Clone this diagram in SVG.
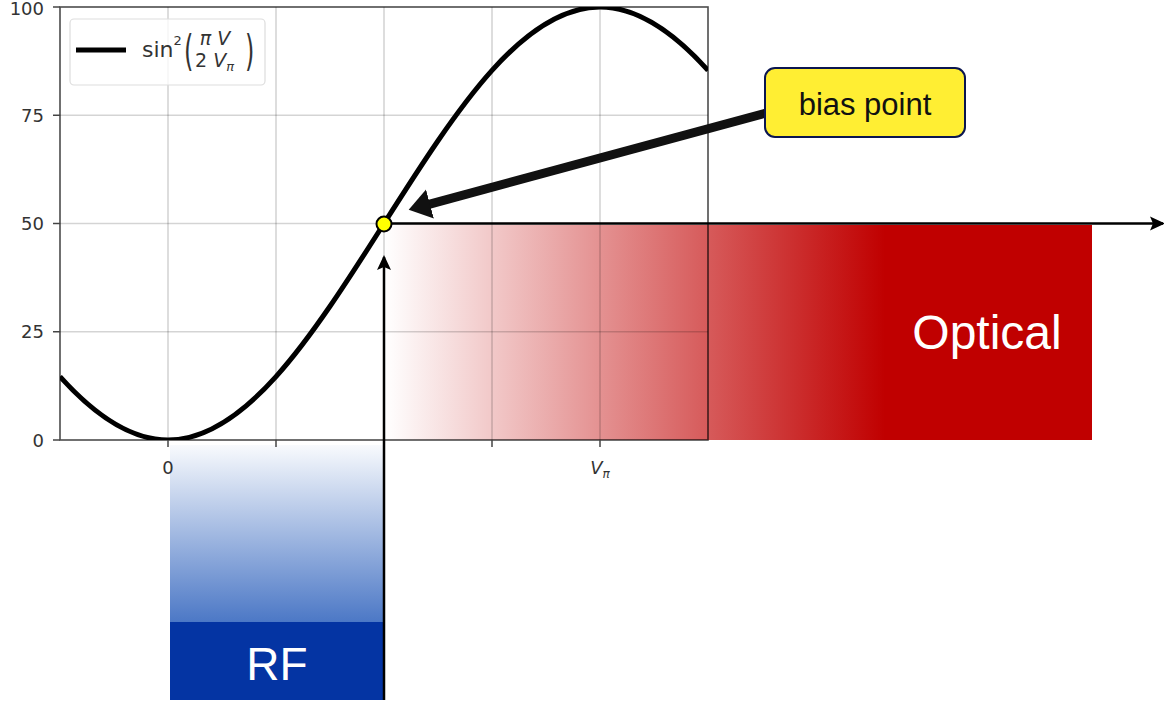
<svg xmlns="http://www.w3.org/2000/svg" width="1164" height="702" viewBox="0 0 1164 702">
<style>
.tick{font-family:"DejaVu Sans",sans-serif;font-size:18px;fill:#333}
.grid{stroke:#000;stroke-opacity:0.17;stroke-width:1.6;fill:none}
.spine{stroke:#000;stroke-opacity:0.7;stroke-width:1.6;fill:none}
.tk{stroke:#444;stroke-width:1.5}
.thin{stroke:#000;stroke-width:2.5;fill:none}
.lbl{font-family:"Liberation Sans",Arial,sans-serif;fill:#fff}
.math{font-family:"DejaVu Sans",sans-serif;fill:#333}
</style>
<defs>
<linearGradient id="redGrad" gradientUnits="userSpaceOnUse" x1="385" y1="0" x2="885" y2="0">
<stop offset="0" stop-color="#ffffff"/>
<stop offset="1" stop-color="#c00000"/>
</linearGradient>
<linearGradient id="blueGrad" gradientUnits="userSpaceOnUse" x1="0" y1="445" x2="0" y2="622">
<stop offset="0" stop-color="#f8fafd"/>
<stop offset="1" stop-color="#4c78c6"/>
</linearGradient>
<clipPath id="plotClip"><rect x="60" y="7" width="648" height="433"/></clipPath>
<marker id="headThin" markerUnits="userSpaceOnUse" markerWidth="16" markerHeight="16" viewBox="0 0 16 16" refX="13" refY="8" orient="auto">
<path d="M0,1 L15,8 L0,15 L3,8 z" fill="#000"/>
</marker>
<marker id="headBig" markerUnits="userSpaceOnUse" markerWidth="24" markerHeight="32" viewBox="0 0 24 32" refX="2" refY="16" orient="auto">
<path d="M0,1 L22,16 L0,31 z" fill="#111"/>
</marker>
</defs>
<rect width="1164" height="702" fill="#fff"/>

<g id="optical">
<rect x="385" y="225" width="707" height="215" fill="url(#redGrad)"/>
<rect x="885" y="225" width="207" height="215" fill="#c00000"/>
<text class="lbl" x="987" y="349" font-size="48" text-anchor="middle">Optical</text>
</g>

<g id="rf">
<rect x="170" y="445" width="215" height="177" fill="url(#blueGrad)"/>
<rect x="170" y="622" width="215" height="78" fill="#0434a3"/>
<text class="lbl" x="277" y="680" font-size="46" text-anchor="middle">RF</text>
</g>

<g id="plot">
<g class="grid">
<line x1="168" y1="7" x2="168" y2="440"/>
<line x1="276" y1="7" x2="276" y2="440"/>
<line x1="384" y1="7" x2="384" y2="440"/>
<line x1="492" y1="7" x2="492" y2="440"/>
<line x1="600" y1="7" x2="600" y2="440"/>
<line x1="60" y1="115.25" x2="708" y2="115.25"/>
<line x1="60" y1="223.5" x2="708" y2="223.5"/>
<line x1="60" y1="331.75" x2="708" y2="331.75"/>
</g>
<rect class="spine" x="60" y="7" width="648" height="433"/>
<g class="tk">
<line x1="53" y1="7" x2="60" y2="7"/>
<line x1="53" y1="115.25" x2="60" y2="115.25"/>
<line x1="53" y1="223.5" x2="60" y2="223.5"/>
<line x1="53" y1="331.75" x2="60" y2="331.75"/>
<line x1="53" y1="440" x2="60" y2="440"/>
<line x1="168" y1="440" x2="168" y2="447"/>
<line x1="276" y1="440" x2="276" y2="447"/>
<line x1="492" y1="440" x2="492" y2="447"/>
<line x1="600" y1="440" x2="600" y2="447"/>
</g>
<g class="tick" text-anchor="end">
<text x="44" y="15">100</text>
<text x="44" y="122">75</text>
<text x="44" y="230">50</text>
<text x="44" y="338">25</text>
<text x="44" y="446.5">0</text>
</g>
<text class="tick" x="168" y="474" text-anchor="middle">0</text>
<text class="tick" x="600" y="474" text-anchor="middle" font-style="italic">V<tspan font-size="12" dy="4">π</tspan></text>
<path clip-path="url(#plotClip)" fill="none" stroke="#000" stroke-width="5" d="M60,376.6 C96,416.68 132,440 168,440 C204,440 240,416.68 276,376.6 C312,336.52 348,280.18 384,223.5 C420,166.82 456,110.48 492,70.4 C528,30.32 564,7 600,7 C636,7 672,30.32 708,70.4"/>
<g id="legend">
<rect x="70" y="19" width="195" height="66" rx="4" fill="#fff" fill-opacity="0.8" stroke="#ddd" stroke-width="1.2"/>
<line x1="76" y1="50" x2="126" y2="50" stroke="#000" stroke-width="5"/>
<text class="math" x="142" y="57" font-size="22">sin<tspan font-size="13" dy="-12">2</tspan></text>
<text class="math" font-size="30" transform="translate(184,66) scale(0.8,1.45)">(</text>
<text class="math" x="215" y="45" font-size="19" font-style="italic" text-anchor="middle">π V</text>
<text class="math" x="195" y="67" font-size="19">2 <tspan font-style="italic">V</tspan><tspan font-style="italic" font-size="13" dy="4">π</tspan></text>
<text class="math" font-size="30" transform="translate(245,66) scale(0.8,1.45)">)</text>
</g>
</g>

<g id="connectors">
<line class="thin" x1="384" y1="223.5" x2="1163" y2="223.5" marker-end="url(#headThin)"/>
<line class="thin" x1="384" y1="700" x2="384" y2="257" marker-end="url(#headThin)"/>
<line x1="766" y1="113" x2="428" y2="204.6" stroke="#111" stroke-width="9" marker-end="url(#headBig)"/>
</g>

<g id="bias-point">
<circle cx="384" cy="224" r="7.5" fill="#ffff00" stroke="#000" stroke-width="2"/>
</g>

<g id="callout">
<rect x="765" y="68" width="200" height="69" rx="10" fill="#ffee33" stroke="#0b1650" stroke-width="2"/>
<text x="865" y="115" font-family="Liberation Sans, Arial, sans-serif" font-size="31" fill="#111" text-anchor="middle">bias point</text>
</g>
</svg>
